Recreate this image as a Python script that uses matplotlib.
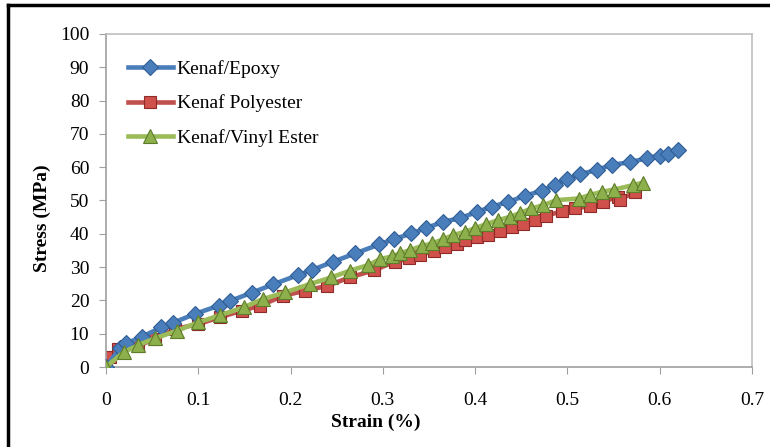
import matplotlib
matplotlib.use('Agg')
import matplotlib.pyplot as plt
from matplotlib.lines import Line2D

# strain (%) / stress (MPa)
epoxy_x = [0, 0.015, 0.022, 0.039, 0.060, 0.073, 0.096, 0.122, 0.134, 0.158,
           0.181, 0.208, 0.223, 0.246, 0.270, 0.296, 0.312, 0.331, 0.347, 0.365,
           0.384, 0.402, 0.418, 0.436, 0.454, 0.472, 0.486, 0.499, 0.514, 0.532,
           0.548, 0.568, 0.586, 0.600, 0.609, 0.620]
epoxy_y = [0, 5.6, 7.1, 9.1, 11.9, 13.3, 15.9, 18.4, 19.8, 22.3,
           24.8, 27.6, 29.1, 31.6, 34.1, 36.8, 38.4, 40.1, 41.7, 43.6,
           44.7, 46.6, 48.1, 49.6, 51.4, 52.9, 54.6, 56.4, 57.9, 59.2,
           60.7, 61.5, 62.7, 63.5, 64.0, 65.3]

poly_x = [0, 0.004, 0.013, 0.035, 0.053, 0.075, 0.100, 0.123, 0.147, 0.167,
          0.192, 0.216, 0.240, 0.264, 0.290, 0.313, 0.328, 0.340, 0.355, 0.367,
          0.380, 0.389, 0.402, 0.414, 0.427, 0.440, 0.452, 0.465, 0.477, 0.494,
          0.508, 0.524, 0.539, 0.555, 0.557, 0.573]
poly_y = [0, 2.9, 5.4, 6.4, 8.4, 11.4, 12.9, 14.9, 16.9, 18.4,
          21.4, 22.9, 24.4, 26.9, 29.0, 31.6, 32.6, 33.6, 34.9, 36.0,
          37.0, 38.2, 39.0, 39.7, 40.7, 42.0, 43.0, 44.2, 45.4, 46.8,
          47.6, 48.3, 49.6, 51.2, 50.3, 52.5]

vinyl_x = [0, 0.019, 0.035, 0.053, 0.077, 0.100, 0.124, 0.149, 0.170, 0.194,
           0.221, 0.244, 0.264, 0.284, 0.297, 0.310, 0.3185, 0.329, 0.342, 0.353,
           0.365, 0.376, 0.389, 0.400, 0.412, 0.425, 0.438, 0.449, 0.461, 0.474,
           0.488, 0.512, 0.524, 0.537, 0.551, 0.571, 0.582]
vinyl_y = [0, 4.4, 6.6, 8.6, 10.9, 13.4, 15.6, 17.9, 20.4, 22.4,
           24.9, 26.9, 28.9, 30.6, 32.4, 33.2, 34.1, 35.1, 36.3, 37.1,
           38.3, 39.6, 40.6, 41.7, 42.9, 44.1, 45.1, 46.3, 47.6, 48.6,
           50.1, 50.6, 51.6, 52.6, 53.3, 54.6, 55.4]

xticks = [0, 0.1, 0.2, 0.3, 0.4, 0.5, 0.6, 0.7]
xticklabels = ['0', '0.1', '0.2', '0.3', '0.4', '0.5', '0.6', '0.7']
yticks = list(range(0, 101, 10))

plt.rcParams['font.family'] = ['Liberation Serif', 'DejaVu Serif']

fig = plt.figure(figsize=(7.7, 4.47), dpi=100)
ax = fig.add_axes([106/770, 1 - 367/447, (752 - 106)/770, (367 - 34)/447])

blue = '#4A7EBB'
red = '#C0504D'
green = '#9BBB59'

ax.plot(epoxy_x, epoxy_y, color=blue, lw=3.3, marker='D', ms=8.5,
        mfc=blue, mec='#2F5D94', mew=0.8, label='Kenaf/Epoxy', zorder=3)
ax.plot(poly_x, poly_y, color=red, lw=3.3, marker='s', ms=9,
        mfc='#D0504B', mec='#8E2A28', mew=0.8, label='Kenaf Polyester', zorder=2)
ax.plot(vinyl_x, vinyl_y, color=green, lw=3.3, marker='^', ms=10.5,
        mfc='#8DB04C', mec='#5E7D2A', mew=0.8, label='Kenaf/Vinyl Ester', zorder=4)

ax.set_xlim(0, 0.7)
ax.set_ylim(0, 100)
ax.set_xticks(xticks)
ax.set_xticklabels(xticklabels)
ax.set_yticks(yticks)
ax.tick_params(direction='out', length=5, color='#A0A0A0', labelsize=14)
ax.tick_params(axis='x', pad=13)
ax.tick_params(axis='y', pad=7)

for s in ax.spines.values():
    s.set_color('#BFBFBF')
    s.set_linewidth(1.2)
ax.spines['left'].set_color('#A0A0A0')
ax.spines['bottom'].set_color('#A0A0A0')

ax.set_xlabel('Strain (%)', fontsize=14, fontweight='bold')
ax.set_ylabel('Stress (MPa)', fontsize=14, fontweight='bold')
ax.xaxis.set_label_coords(0.418, -0.14)
ax.yaxis.set_label_coords(-0.085, 0.447)

leg = ax.legend(loc='upper left', bbox_to_anchor=(0.034, 0.922), frameon=False,
                fontsize=14, handlelength=2.3, handletextpad=0.2, labelspacing=0.86,
                borderaxespad=0, borderpad=0)

# outer frame (left, top)
fig.add_artist(Line2D([8/770, 8/770], [0, 1 - 5/447], color='black', lw=2.5,
                      transform=fig.transFigure))
fig.add_artist(Line2D([8/770, 1], [1 - 5/447, 1 - 5/447], color='black', lw=2.5,
                      transform=fig.transFigure))

plt.savefig('out.png', dpi=100)
